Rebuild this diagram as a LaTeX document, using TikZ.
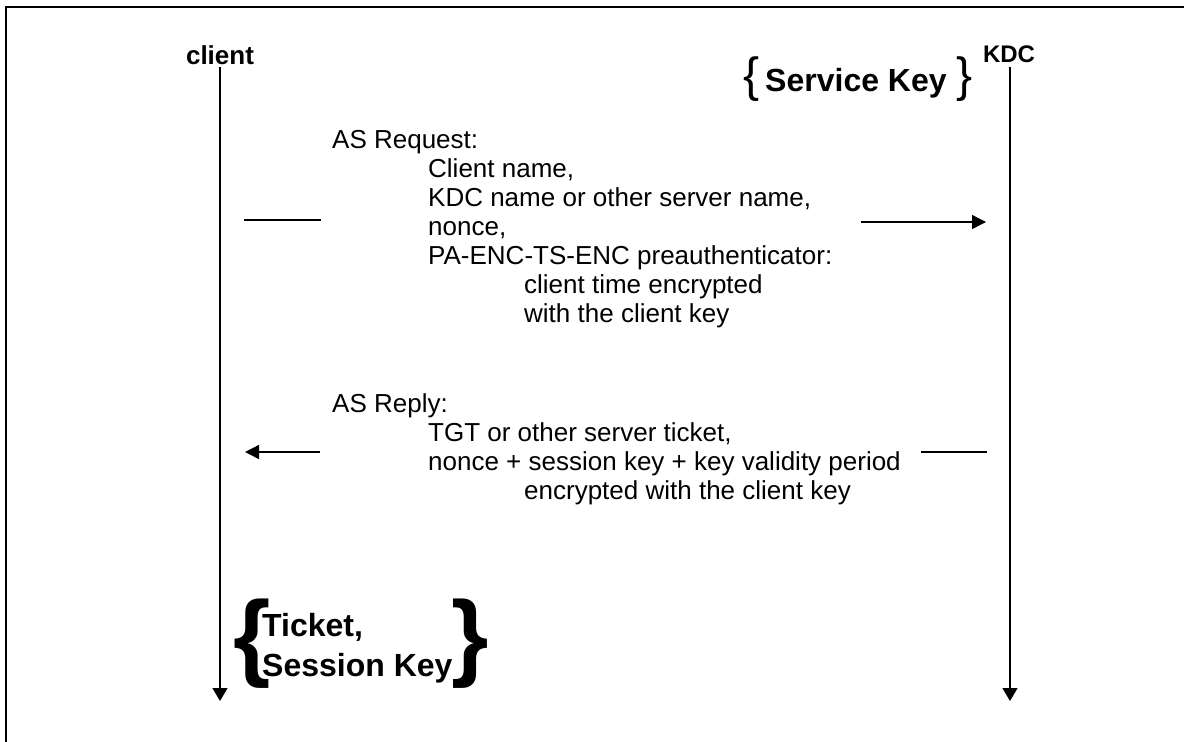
\documentclass[tikz,border=0pt]{standalone}
\usepackage{fontspec}
\setmainfont{Liberation Sans}
\usetikzlibrary{arrows.meta}

\begin{document}
\begin{tikzpicture}[x=1pt, y=-1pt,
	msg/.style={anchor=north west, inner sep=0pt, align=left, font=\fontsize{26}{29}\selectfont},
	who/.style={inner sep=0pt, font=\bfseries\fontsize{26}{26}\selectfont},
	life/.style={line width=1.3pt, -{Triangle[length=13pt,width=15pt]}},
	stub/.style={line width=1.3pt},
	tip/.style={line width=1.3pt, -{Triangle[length=14pt,width=14pt]}}]
	\useasboundingbox (0,0) rectangle (1184,742);
	%% frame (only top and left edges show)
	\draw [line width=2.2pt] (1184,6.7) -- (5.8,6.7) -- (5.8,742);

	%% the two parties
	\node [who] (client) at (220,55) {client};
	\node [who, font=\bfseries\fontsize{24}{24}\selectfont] (kdc) at (1009,54) {KDC};
	\coordinate (clienttop) at (220,67);
	\coordinate (clientend) at (220,701);
	\coordinate (kdctop) at (1010,67);
	\coordinate (kdcend) at (1010,701);
	\draw [life] (clienttop) -- (clientend);
	\draw [life] (kdctop) -- (kdcend);

	%% key held by the KDC
	\node [anchor=base west, inner sep=0pt, font=\bfseries\fontsize{32}{32}\selectfont] (svckey) at (743,91)
		{{\mdseries\fontsize{48}{48}\selectfont\{}\hspace{6pt}Service Key\hspace{10pt}{\mdseries\fontsize{48}{48}\selectfont\}}};

	%% request
	\node [msg] (req) at (332,130) {AS Request:\\
		\hspace*{96pt}Client name,\\
		\hspace*{96pt}KDC name or other server name,\\
		\hspace*{96pt}nonce,\\
		\hspace*{96pt}PA-ENC-TS-ENC preauthenticator:\\
		\hspace*{192pt}client time encrypted\\
		\hspace*{192pt}with the client key};
	\coordinate (reqa) at (244,220);
	\coordinate (reqb) at (321,220);
	\coordinate (reqc) at (861,222);
	\coordinate (reqd) at (986,222);
	\draw [stub] (reqa) -- (reqb);
	\draw [tip] (reqc) -- (reqd);

	%% reply
	\node [msg] (rep) at (332,393) {AS Reply:\\
		\hspace*{96pt}TGT or other server ticket,\\
		\hspace*{96pt}nonce + session key + key validity period\\
		\hspace*{192pt}encrypted with the client key};
	\coordinate (repa) at (320,452);
	\coordinate (repb) at (245,452);
	\coordinate (repc) at (921,452);
	\coordinate (repd) at (987,452);
	\draw [tip] (repa) -- (repb);
	\draw [stub] (repc) -- (repd);

	%% what the client ends up with
	\node [anchor=base west, inner sep=0pt, font=\bfseries\fontsize{96}{96}\selectfont] (lbr) at (233,668) {\{};
	\node [anchor=north west, inner sep=0pt, align=left, font=\bfseries\fontsize{32}{40}\selectfont] (tsk) at (262,613) {Ticket,\\Session Key};
	\node [anchor=base west, inner sep=0pt, font=\bfseries\fontsize{96}{96}\selectfont] (rbr) at (451,668) {\}};
\end{tikzpicture}
\end{document}
